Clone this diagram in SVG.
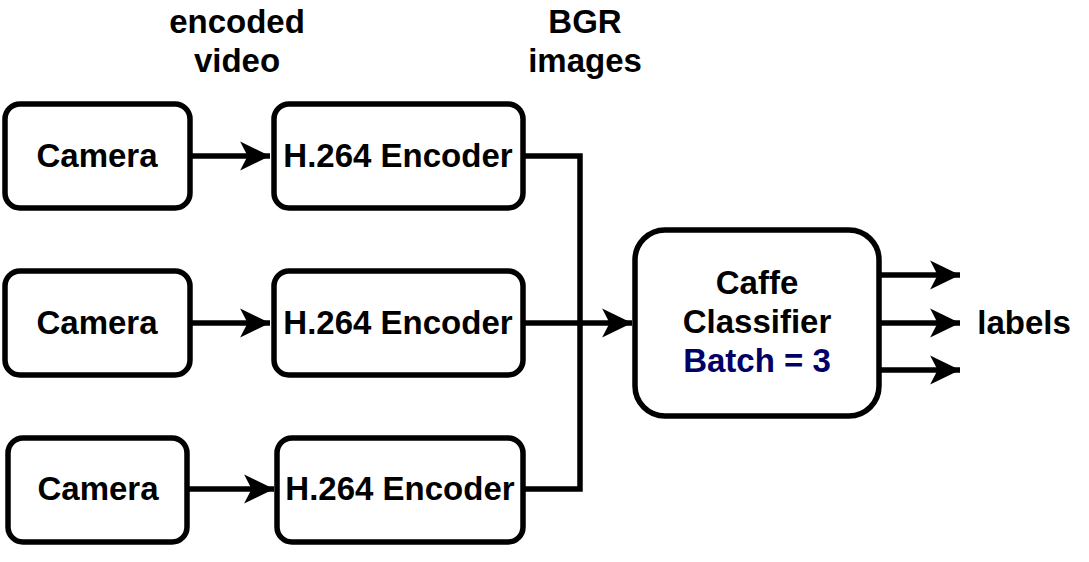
<svg xmlns="http://www.w3.org/2000/svg" width="1089" height="562" viewBox="0 0 1089 562">
<style>
.box{fill:#fff;stroke:#000;stroke-width:5.5}
.t{font-family:"Liberation Sans",Arial,sans-serif;font-weight:bold;font-size:33px;fill:#000;text-anchor:middle}
.w{stroke:#000;stroke-width:5.5;fill:none}
</style>
<defs>
<marker id="ah" markerUnits="userSpaceOnUse" markerWidth="32" markerHeight="32" viewBox="-28 -14 30 28" refX="0" refY="0" orient="auto">
<path d="M0,0 L-28,-13.5 L-21,0 L-28,13.5 Z" fill="#000"/>
</marker>
</defs>
<rect width="1089" height="562" fill="#fff"/>
<g id="connectors">
<line class="w" x1="192" y1="156" x2="270" y2="156" marker-end="url(#ah)"/>
<line class="w" x1="192" y1="323" x2="270" y2="323" marker-end="url(#ah)"/>
<line class="w" x1="188" y1="489" x2="274" y2="489" marker-end="url(#ah)"/>
<polyline class="w" points="524,156 580,156 580,489 524,489"/>
<line class="w" x1="524" y1="323" x2="632" y2="323" marker-end="url(#ah)"/>
<line class="w" x1="880" y1="275" x2="960" y2="275" marker-end="url(#ah)"/>
<line class="w" x1="880" y1="323" x2="960" y2="323" marker-end="url(#ah)"/>
<line class="w" x1="880" y1="370" x2="960" y2="370" marker-end="url(#ah)"/>
</g>
<g id="cam1"><rect class="box" x="5" y="104" width="185" height="104" rx="15"/><text class="t" x="97" y="167">Camera</text></g>
<g id="cam2"><rect class="box" x="5" y="271" width="185" height="104" rx="15"/><text class="t" x="97" y="334">Camera</text></g>
<g id="cam3"><rect class="box" x="8" y="438" width="179" height="104" rx="15"/><text class="t" x="98" y="500">Camera</text></g>
<g id="enc1"><rect class="box" x="274" y="104" width="249" height="104" rx="15"/><text class="t" x="398" y="167">H.264 Encoder</text></g>
<g id="enc2"><rect class="box" x="274" y="271" width="249" height="104" rx="15"/><text class="t" x="398" y="334">H.264 Encoder</text></g>
<g id="enc3"><rect class="box" x="277" y="438" width="246" height="104" rx="15"/><text class="t" x="400" y="500">H.264 Encoder</text></g>
<g id="classifier"><rect class="box" x="635" y="230" width="244" height="186" rx="30"/>
<text class="t" x="757" y="294">Caffe</text>
<text class="t" x="757" y="333">Classifier</text>
<text class="t" x="757" y="372" style="fill:#000066">Batch = 3</text></g>
<g id="lbl-encoded"><text class="t" x="237" y="33">encoded</text><text class="t" x="237" y="72">video</text></g>
<g id="lbl-bgr"><text class="t" x="585" y="33">BGR</text><text class="t" x="585" y="72">images</text></g>
<g id="lbl-labels"><text class="t" x="1024" y="334">labels</text></g>
</svg>
